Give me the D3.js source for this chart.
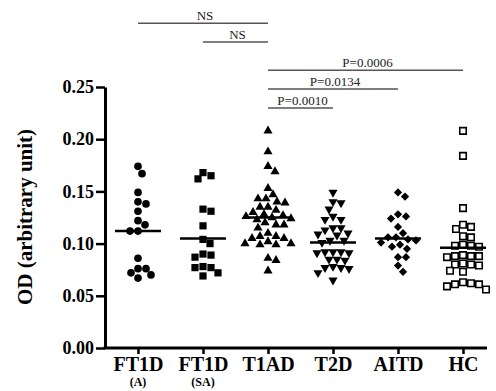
<!DOCTYPE html>
<html>
<head>
<meta charset="utf-8">
<script src="https://cdn.jsdelivr.net/npm/d3@7"></script>
<style>
  body { margin: 0; background: #fff; }
  svg { display: block; font-family: "Liberation Serif", "Times New Roman", serif; }
</style>
</head>
<body>
<svg width="496" height="391"></svg>
<script>
// categories and sub labels
const groups = ["FT1D", "FT1D ", "T1AD", "T2D", "AITD", "HC"];
const subLabels = ["(A)", "(SA)", "", "", "", ""];

// OD values per group
const ft1dA = [0.174, 0.167, 0.149, 0.140, 0.138, 0.131, 0.122, 0.118, 0.112, 0.112,
               0.086, 0.076, 0.076, 0.072, 0.070, 0.067];
const ft1dSA = [0.168, 0.165, 0.162, 0.133, 0.131, 0.117, 0.104, 0.100, 0.090, 0.089,
                0.087, 0.078, 0.077, 0.077, 0.072, 0.069];
const t1ad = [0.208, 0.188, 0.174, 0.169, 0.153, 0.147, 0.143, 0.143, 0.140, 0.139,
              0.135, 0.135, 0.132, 0.130, 0.128, 0.127, 0.126, 0.125, 0.124, 0.123,
              0.120, 0.118, 0.118, 0.115, 0.110, 0.107, 0.107, 0.105, 0.105, 0.102,
              0.100, 0.099, 0.099, 0.100, 0.086, 0.084, 0.074];
const t2d = [0.149, 0.140, 0.139, 0.133, 0.126, 0.123, 0.123, 0.115, 0.115, 0.113,
             0.110, 0.109, 0.108, 0.103, 0.103, 0.101, 0.092, 0.092, 0.091, 0.091,
             0.092, 0.085, 0.085, 0.084, 0.078, 0.077, 0.076, 0.077, 0.072, 0.065];
const aitd = [0.149, 0.145, 0.128, 0.126, 0.124, 0.116, 0.110, 0.106, 0.104, 0.101,
              0.099, 0.097, 0.095, 0.103, 0.106, 0.087, 0.087, 0.079, 0.073];
const hc = [0.208, 0.184, 0.134, 0.118, 0.116, 0.114, 0.107, 0.106, 0.099, 0.098,
            0.098, 0.097, 0.089, 0.088, 0.088, 0.087, 0.088, 0.081, 0.080, 0.079,
            0.080, 0.074, 0.073, 0.063, 0.061, 0.059, 0.061, 0.062, 0.056];

// mean line per group
const means = [0.112, 0.105, 0.125, 0.101, 0.105, 0.096];

// y axis ticks
const yTicks = [0, 0.05, 0.10, 0.15, 0.20, 0.25];

// comparison brackets
const compLabels = ["NS", "NS", "P=0.0006", "P=0.0134", "P=0.0010"];
const compFrom = [0, 1, 2, 2, 2];
const compTo = [2, 2, 5, 4, 3];
const compLevel = [0.311, 0.293, 0.266, 0.248, 0.230];

const series = [ft1dA, ft1dSA, t1ad, t2d, aitd, hc];

const svg = d3.select("svg");
const plotLeft = 105, plotRight = 487, plotTop = 87, plotBottom = 348;

const x = d3.scalePoint().domain(groups).range([138, 463]);
const y = d3.scaleLinear().domain([0, 0.25]).range([plotBottom, plotTop]);

// y axis
const yAxis = svg.append("g")
    .attr("transform", "translate(" + plotLeft + ",0)")
    .call(d3.axisLeft(y).tickValues(yTicks).tickFormat(d3.format(".2f"))
        .tickSize(9).tickPadding(2).tickSizeOuter(0));
yAxis.select(".domain").attr("stroke-width", 3);
yAxis.selectAll(".tick line").attr("stroke-width", 2.5);
yAxis.selectAll(".tick text")
    .attr("font-size", 18).attr("font-weight", "bold")
    .attr("fill", "#000").attr("font-family", "Liberation Serif");

// x axis
const xAxis = svg.append("g")
    .attr("transform", "translate(0," + plotBottom + ")")
    .call(d3.axisBottom(x).tickSize(6).tickSizeOuter(0).tickFormat(d => d.trim()));
xAxis.select(".domain").attr("d", "M" + (plotLeft - 1.5) + ",0H" + plotRight).attr("stroke-width", 3);
xAxis.selectAll(".tick line").attr("stroke-width", 2.5);
xAxis.selectAll(".tick text")
    .attr("y", 7).attr("dy", "0.8em")
    .attr("font-size", 20).attr("font-weight", "bold")
    .attr("fill", "#000").attr("font-family", "Liberation Serif");

svg.append("g").selectAll("text")
    .data(groups.filter((g, i) => subLabels[i]))
    .join("text")
    .attr("x", d => x(d))
    .attr("y", 386)
    .attr("text-anchor", "middle")
    .attr("font-size", 12).attr("font-weight", "bold")
    .text(d => subLabels[groups.indexOf(d)]);

// y title
svg.append("text")
    .attr("transform", "translate(32,217) rotate(-90)")
    .attr("text-anchor", "middle")
    .attr("font-size", 21).attr("font-weight", "bold")
    .text("OD (arbitrary unit)");

// simple beeswarm: push each point sideways until it does not overlap
function swarm(vals, cx, gap) {
    const placed = [];
    const pts = vals.map(v => ({v: v, py: y(v)})).sort((a, b) => a.py - b.py);
    pts.forEach(p => {
        for (let i = 0; i < 80; i++) {
            const off = (i % 2 === 0 ? -1 : 1) * Math.ceil(i / 2);
            const px = cx + off;
            const hit = placed.some(q => (q.px - px) ** 2 + (q.py - p.py) ** 2 < gap * gap);
            if (!hit) { p.px = px; break; }
        }
        placed.push(p);
    });
    return placed;
}

const shapes = [
    {type: d3.symbolCircle, size: 46, rot: 0, fill: "#000", stroke: "none"},
    {type: d3.symbolSquare, size: 52, rot: 0, fill: "#000", stroke: "none"},
    {type: d3.symbolTriangle, size: 36, rot: 0, fill: "#000", stroke: "none"},
    {type: d3.symbolTriangle, size: 36, rot: 180, fill: "#000", stroke: "none"},
    {type: d3.symbolSquare, size: 34, rot: 45, fill: "#000", stroke: "none"},
    {type: d3.symbolSquare, size: 42, rot: 0, fill: "#fff", stroke: "#000"}
];

series.forEach((vals, i) => {
    const s = shapes[i];
    const pts = swarm(vals, x(groups[i]), 8);
    svg.append("g").selectAll("path")
        .data(pts)
        .join("path")
        .attr("d", d3.symbol().type(s.type).size(s.size))
        .attr("transform", d => "translate(" + d.px + "," + d.py + ") rotate(" + s.rot + ")")
        .attr("fill", s.fill)
        .attr("stroke", s.stroke)
        .attr("stroke-width", 1.6);
});

// mean lines
svg.append("g").selectAll("line")
    .data(means)
    .join("line")
    .attr("x1", (d, i) => x(groups[i]) - 23)
    .attr("x2", (d, i) => x(groups[i]) + 23)
    .attr("y1", d => y(d))
    .attr("y2", d => y(d))
    .attr("stroke", "#000")
    .attr("stroke-width", 2.5);

// comparison brackets
const comp = svg.append("g");
compLabels.forEach((lab, i) => {
    const x1 = x(groups[compFrom[i]]), x2 = x(groups[compTo[i]]);
    const yy = y(compLevel[i]);
    comp.append("line")
        .attr("x1", x1).attr("x2", x2)
        .attr("y1", yy).attr("y2", yy)
        .attr("stroke", "#555").attr("stroke-width", 1.5);
    comp.append("text")
        .attr("x", (x1 + x2) / 2 + 2)
        .attr("y", yy - 3)
        .attr("text-anchor", "middle")
        .attr("font-size", 13)
        .attr("fill", "#222")
        .text(lab);
});
</script>
</body>
</html>
